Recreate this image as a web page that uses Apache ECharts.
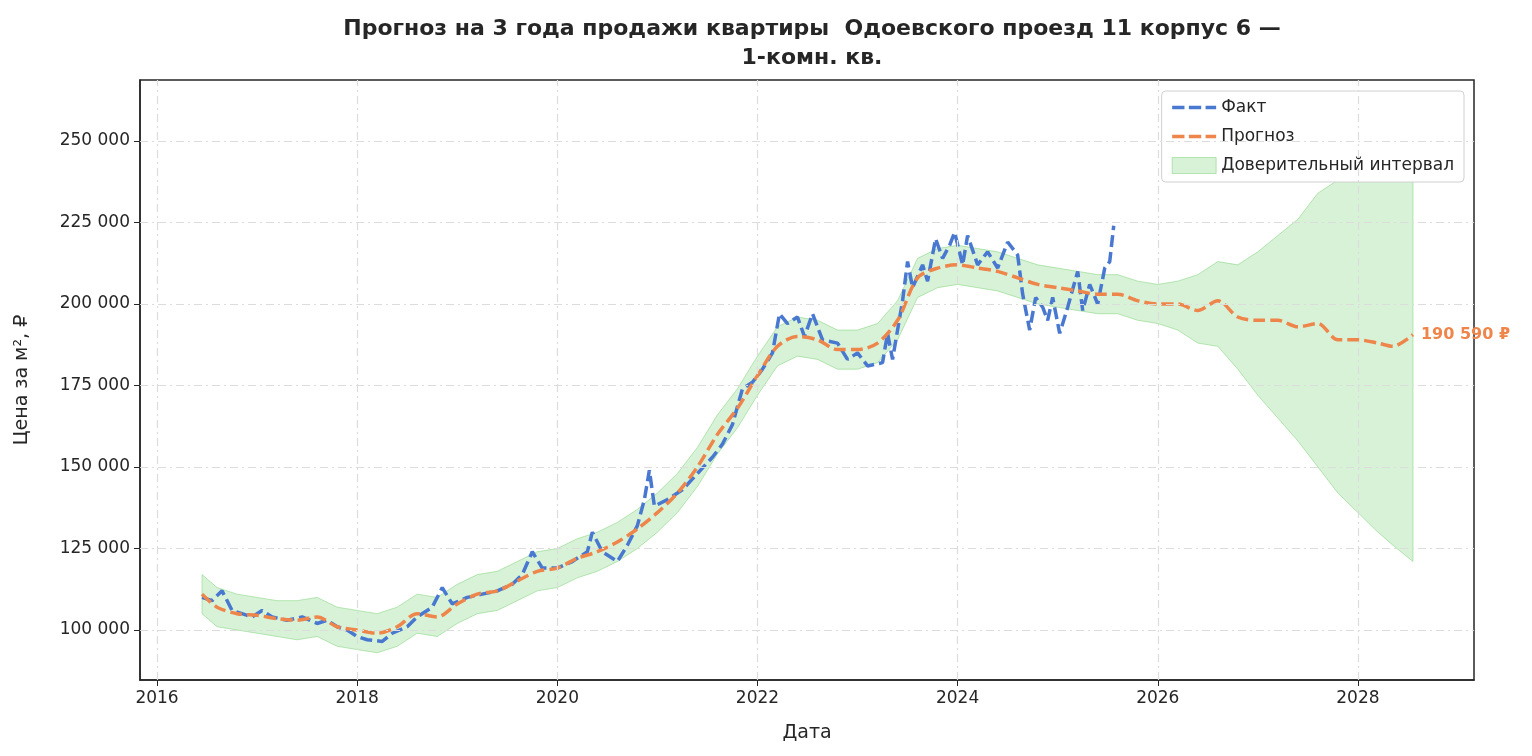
<!DOCTYPE html>
<html>
<head>
<meta charset="UTF-8">
<title>Прогноз</title>
<script src="https://cdn.jsdelivr.net/npm/echarts@6/dist/echarts.min.js"></script>
<style>
  html,body{margin:0;padding:0;background:#fff;}
  #chart{width:1532px;height:756px;}
</style>
</head>
<body>
<div id="chart"></div>
<script>
// ticks
var xTicks = [2016, 2018, 2020, 2022, 2024, 2026, 2028];
var yTicks = [100000, 125000, 150000, 175000, 200000, 225000, 250000];

// факт (год, тыс. ₽)
var factYears = [2016.45,2016.55,2016.65,2016.75,2016.85,2016.95,2017.05,2017.15,2017.3,2017.45,2017.6,2017.7,2017.8,2017.9,2018.0,2018.1,2018.25,2018.35,2018.5,2018.6,2018.75,2018.85,2018.95,2019.1,2019.25,2019.4,2019.55,2019.65,2019.75,2019.85,2020.0,2020.15,2020.3,2020.35,2020.45,2020.6,2020.7,2020.8,2020.87,2020.92,2020.97,2021.1,2021.25,2021.4,2021.55,2021.65,2021.75,2021.85,2021.95,2022.05,2022.15,2022.22,2022.3,2022.4,2022.47,2022.55,2022.65,2022.8,2022.9,2023.0,2023.1,2023.25,2023.3,2023.35,2023.45,2023.5,2023.55,2023.65,2023.7,2023.78,2023.85,2023.92,2023.97,2024.05,2024.1,2024.2,2024.3,2024.4,2024.5,2024.6,2024.65,2024.72,2024.78,2024.85,2024.9,2024.95,2025.02,2025.1,2025.2,2025.25,2025.32,2025.4,2025.47,2025.52,2025.56];
var factVals = [110,109,112,106,105,104,106,104,103,104,102,103,101,100,98,97,96.5,99,101,104,107,113,108,110,111,112,114,117,124,119,119,121,124,130,124,121,126,132,140,149,138,140,143,148,153,157,163,174,176,180,185,197,194,196,190,197,189,188,183,185,181,182,191,183,201,213,205,212,207,220,214,218,222,212,221,212,216,211,219,215,203,192,202,199,195,202,191,199,210,198,206,200,211,213,224];

// прогноз и доверительный интервал
var fcYears = [2016.45,2016.6,2016.8,2017.0,2017.2,2017.4,2017.6,2017.8,2018.0,2018.2,2018.4,2018.6,2018.8,2019.0,2019.2,2019.4,2019.6,2019.8,2020.0,2020.2,2020.4,2020.6,2020.8,2021.0,2021.2,2021.4,2021.6,2021.8,2022.0,2022.2,2022.4,2022.6,2022.8,2023.0,2023.2,2023.4,2023.6,2023.8,2024.0,2024.2,2024.4,2024.6,2024.8,2025.0,2025.2,2025.4,2025.6,2025.8,2026.0,2026.2,2026.4,2026.6,2026.8,2027.0,2027.2,2027.4,2027.6,2027.8,2028.0,2028.2,2028.35,2028.55];
var fcVals = [111,107,105,104.5,103.5,103,104,101,100,99,101,105,104,108,111,112,115,118,119,122,124,127,131,136,142,150,160,168,178,187,190,189,186,186,188,195,208,211,212,211,210,208,206,205,204,203,203,201,200,200,198,201,196,195,195,193,194,189,189,188,187,190.59];
var ciLow = [105,101,100,99,98,97,98,95,94,93,95,99,98,102,105,106,109,112,113,116,118,121,125,130,136,144,154,162,172,181,184,183,180,180,182,189,202,205,206,205,204,202,200,199,198,197,197,195,194,192,188,187,180,172,165,158,150,142,136,130,126,121];
var ciHigh = [117,113,111,110,109,109,110,107,106,105,107,111,110,114,117,118,121,124,125,128,130,133,137,142,148,156,166,174,184,193,196,195,192,192,194,201,214,217,218,217,216,214,212,211,210,209,209,207,206,207,209,213,212,216,221,226,234,238,246,253,256,260];

function pairs(xs, ys) { return xs.map(function (x, i) { return [x, ys[i] * 1000]; }); }
function fmt(v) { return String(Math.round(v)).replace(/\B(?=(\d{3})+(?!\d))/g, ' '); }

var gridLines = xTicks.map(function (t) { return { xAxis: t }; })
  .concat(yTicks.map(function (t) { return { yAxis: t }; }));

var bandFill = 'rgba(106,204,100,0.26)';
var bandEdge = 'rgba(106,204,100,0.45)';
var dashIcon = 'path://M0,0h14v4h-14zM19,0h14v4h-14zM38,0h12v4h-12z';

var chart = echarts.init(document.getElementById('chart'));
var font = 'DejaVu Sans';
chart.setOption({
  animation: false,
  textStyle: { fontFamily: font },
  title: {
    text: 'Прогноз на 3 года продажи квартиры  Одоевского проезд 11 корпус 6 —\n1-комн. кв.',
    left: 807, top: 10, textAlign: 'center',
    textStyle: { fontSize: 22, fontWeight: 'bold', color: '#262626', lineHeight: 29 }
  },
  grid: { left: 140, right: 58, top: 80, bottom: 76, show: true, borderColor: '#262626', borderWidth: 1.5 },
  legend: {
    orient: 'vertical', right: 68, top: 91,
    backgroundColor: '#fff', borderColor: '#d0d0d0', borderWidth: 1, borderRadius: 4,
    padding: [8, 10, 8, 10], itemGap: 12, itemWidth: 44, itemHeight: 16,
    textStyle: { fontSize: 17, color: '#262626', fontFamily: font },
    data: [
      { name: 'Факт', icon: dashIcon, itemStyle: { color: '#4878d0' } },
      { name: 'Прогноз', icon: dashIcon, itemStyle: { color: '#ee854a' } },
      { name: 'Доверительный интервал', icon: 'rect', itemStyle: { color: bandFill, borderColor: bandEdge, borderWidth: 1 } }
    ]
  },
  xAxis: {
    type: 'value', min: 2015.83, max: 2029.16,
    name: 'Дата', nameLocation: 'middle', nameGap: 44,
    nameTextStyle: { fontSize: 19, color: '#262626' },
    axisLine: { lineStyle: { color: '#262626', width: 1.5 } },
    axisTick: { show: true, customValues: xTicks, length: 6, lineStyle: { color: '#262626' } },
    axisLabel: { customValues: xTicks, fontSize: 17, color: '#262626', margin: 10, formatter: function (v) { return String(v); } },
    splitLine: { show: false }
  },
  yAxis: {
    type: 'value', min: 84660, max: 268700,
    name: 'Цена за м², ₽', nameLocation: 'middle', nameGap: 108, nameRotate: 90,
    nameTextStyle: { fontSize: 19, color: '#262626' },
    axisLine: { show: true, lineStyle: { color: '#262626', width: 1.5 } },
    axisTick: { show: true, customValues: yTicks, length: 6, lineStyle: { color: '#262626' } },
    axisLabel: { customValues: yTicks, fontSize: 17, color: '#262626', margin: 10, formatter: fmt },
    splitLine: { show: false }
  },
  series: [
    {
      name: 'Доверительный интервал', type: 'custom', z: 1, silent: true,
      data: [0],
      itemStyle: { color: bandFill },
      renderItem: function (params, api) {
        var pts = [];
        fcYears.forEach(function (x, i) { pts.push(api.coord([x, ciHigh[i] * 1000])); });
        for (var i = fcYears.length - 1; i >= 0; i--) pts.push(api.coord([fcYears[i], ciLow[i] * 1000]));
        return { type: 'polygon', shape: { points: pts }, style: { fill: bandFill, stroke: bandEdge, lineWidth: 1 } };
      },
      markLine: {
        silent: true, symbol: 'none', label: { show: false },
        lineStyle: { color: '#dcdcdc', type: [8, 4, 2, 4], width: 1.2 },
        data: gridLines
      }
    },
    {
      name: 'Факт', type: 'line', data: pairs(factYears, factVals), symbol: 'none',
      lineStyle: { color: '#4878d0', width: 3.5, type: [12, 5] }, itemStyle: { color: '#4878d0' }, z: 3
    },
    {
      name: 'Прогноз', type: 'line', data: pairs(fcYears, fcVals), symbol: 'none', smooth: 0.3,
      lineStyle: { color: '#ee854a', width: 3.5, type: [12, 5] }, itemStyle: { color: '#ee854a' }, z: 4,
      endLabel: {
        show: true, distance: 8, color: '#ee854a', fontWeight: 'bold', fontSize: 16,
        formatter: function (p) { return fmt(p.value[1]) + ' ₽'; }
      }
    }
  ]
});
</script>
</body>
</html>
